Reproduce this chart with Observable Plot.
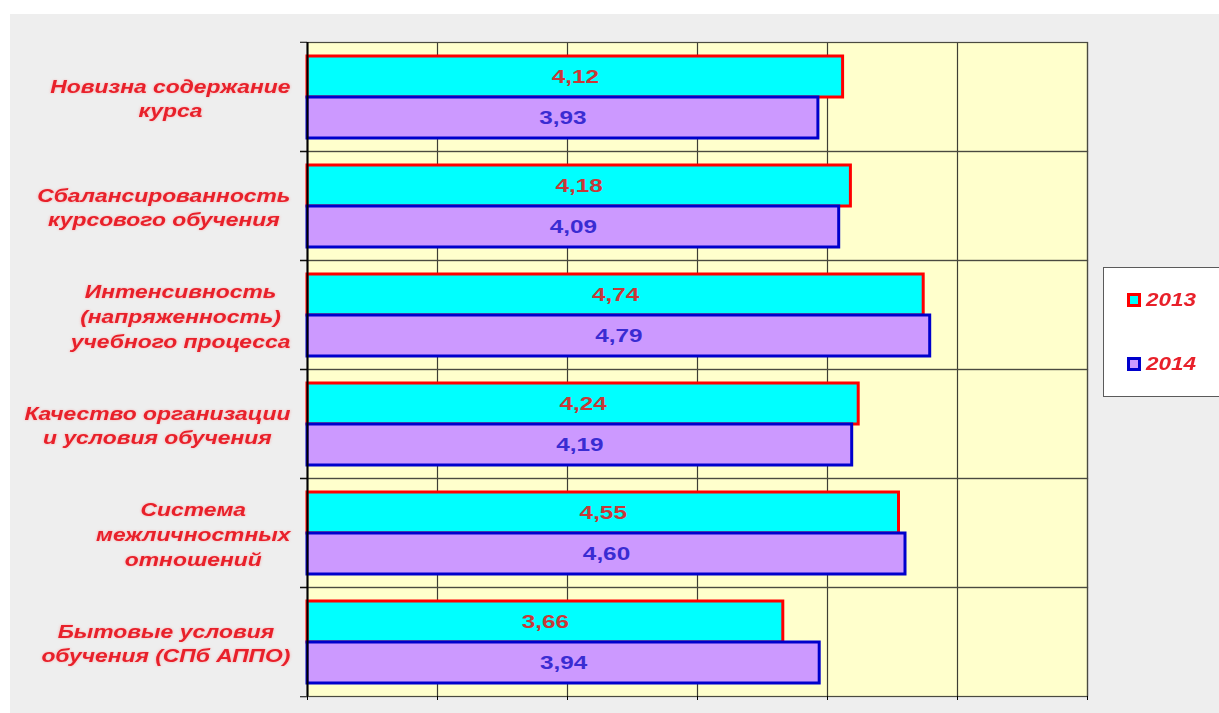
<!DOCTYPE html>
<html>
<head>
<meta charset="utf-8">
<script src="https://cdn.jsdelivr.net/npm/d3@7"></script>
<script src="https://cdn.jsdelivr.net/npm/@observablehq/plot@0.6"></script>
<style>
html, body { margin: 0; padding: 0; background: #ffffff; overflow: hidden; width: 1219px; height: 713px; }
#panel { position: absolute; left: 10px; top: 14px; width: 1209px; height: 699px; background: #eeeeee; }
#legend { position: absolute; left: 1103px; top: 267px; width: 130px; height: 130px; background: #ffffff; border: 1px solid #5a5a5a; box-sizing: border-box; }
.item { position: absolute; left: 23px; height: 20px; display: flex; align-items: center; font: italic bold 18px "Liberation Sans", Arial, sans-serif; color: #e8202a; }
.sw { width: 8px; height: 8px; border: 3px solid; margin-right: 5px; }
.lt { display: inline-block; transform: scaleX(1.25); transform-origin: left center; }
</style>
</head>
<body>
<div id="panel"></div>
<div id="legend"></div>
<script>
// ---- data ----
const categories = [
  "Новизна содержание курса",
  "Сбалансированность курсового обучения",
  "Интенсивность (напряженность) учебного процесса",
  "Качество организации и условия обучения",
  "Система межличностных отношений",
  "Бытовые условия обучения (СПб АППО)"
];
const categoryLines = [
  "Новизна содержание\nкурса",
  "Сбалансированность\nкурсового обучения",
  "Интенсивность\n(напряженность)\nучебного процесса",
  "Качество организации\nи условия обучения",
  "Система\nмежличностных\nотношений",
  "Бытовые условия\nобучения (СПб АППО)"
];
const years = ["2013", "2014"];
const values2013 = [4.12, 4.18, 4.74, 4.24, 4.55, 3.66];
const values2014 = [3.93, 4.09, 4.79, 4.19, 4.60, 3.94];

// ---- styling ----
const yearFill = {"2013": "#00ffff", "2014": "#cc99ff"};
const yearStroke = {"2013": "#ff0000", "2014": "#0000cc"};
const yearText = {"2013": "#c83838", "2014": "#3a2cd2"};
const labelColor = "#e8202a";
const FONT = "Liberation Sans";
const STRETCH = 1.27;
const VALUE_STRETCH = 1.35;

const rows = categories.flatMap((c, i) => [
  {category: c, year: "2013", value: values2013[i]},
  {category: c, year: "2014", value: values2014[i]}
]);
const fmt = v => d3.format(".2f")(v).replace(".", ",");

// measure label widths to right-align each centered block
const ctx = document.createElement("canvas").getContext("2d");
ctx.font = `italic bold 18px "${FONT}"`;
const labelRight = -17; // px from plot left edge
const labelMarks = categories.map((c, i) => {
  const w = Math.max(...categoryLines[i].split("\n").map(s => ctx.measureText(s).width)) * STRETCH;
  return Plot.text([{c, t: categoryLines[i]}], {
    fy: "c", text: "t", frameAnchor: "left", textAnchor: "middle",
    dx: labelRight - w / 2, lineHeight: 1.38,
    fontSize: 18, fontWeight: "bold", fontStyle: "italic", fontFamily: FONT,
    fill: labelColor
  });
});

const chart = Plot.plot({
  width: 1209, height: 699,
  marginLeft: 297, marginRight: 132, marginTop: 26, marginBottom: 16,
  style: {background: "transparent", overflow: "visible"},
  x: {domain: [0, 6], axis: null},
  y: {domain: years, paddingInner: 0, paddingOuter: 0.31, axis: null},
  fy: {domain: categories, padding: 0, axis: null},
  marks: [
    Plot.frame({fill: "#ffffcc", stroke: null}),
    Plot.gridX({ticks: 6, stroke: "#3e3e34", strokeOpacity: 1, strokeWidth: 1.2}),
    Plot.frame({stroke: "#4a4a40", strokeWidth: 1.2}),
    Plot.barX(rows.filter(d => d.year === "2013"), {
      fy: "category", y: "year", x1: 0, x2: "value",
      fill: d => yearFill[d.year], stroke: d => yearStroke[d.year], strokeWidth: 3
    }),
    Plot.barX(rows.filter(d => d.year === "2014"), {
      fy: "category", y: "year", x1: 0, x2: "value",
      fill: d => yearFill[d.year], stroke: d => yearStroke[d.year], strokeWidth: 3
    }),
    Plot.ruleX([0], {stroke: "#000000", strokeWidth: 2}),
    Plot.text(rows, {
      fy: "category", y: "year", x: d => d.value / 2, text: d => fmt(d.value),
      fill: d => yearText[d.year], fontSize: 18, fontWeight: "bold", fontFamily: FONT
    }),
    ...labelMarks,
    Plot.axisFy({anchor: "left", tickSize: 7, tickFormat: () => "", label: null, stroke: "#000000", dy: -54.75}),
    Plot.axisFy({anchor: "left", tickSize: 7, tickFormat: () => "", label: null, stroke: "#000000", dy: 54.75}),
    Plot.axisX({ticks: 6, tickSize: 4, tickFormat: () => "", label: null, stroke: "#000000"})
  ]
});

// horizontally widen texts (the reference glyphs are wide)
function widen(t, k) {
  const tr = t.getAttribute("transform") || "";
  const x = +t.getAttribute("x") || 0, y = +t.getAttribute("y") || 0;
  t.setAttribute("transform", `${tr} translate(${x},${y}) scale(${k},1) translate(${-x},${-y})`);
}
chart.querySelectorAll("text").forEach(t => {
  const s = t.textContent;
  if (/^\d,\d\d$/.test(s)) widen(t, VALUE_STRETCH);
  else if (/[А-Яа-я]/.test(s)) {
    widen(t, STRETCH);
    t.style.filter = "drop-shadow(0 0 1.2px rgba(255,120,120,0.55))";
  }
});
document.getElementById("panel").appendChild(chart);

// legend
const legend = d3.select("#legend");
const legendTop = {"2013": 22, "2014": 86};
years.forEach(y => {
  const it = legend.append("div").attr("class", "item").style("top", legendTop[y] + "px");
  it.append("span").attr("class", "sw")
    .style("border-color", yearStroke[y]).style("background", yearFill[y]);
  it.append("span").attr("class", "lt").text(y);
});
</script>
</body>
</html>
